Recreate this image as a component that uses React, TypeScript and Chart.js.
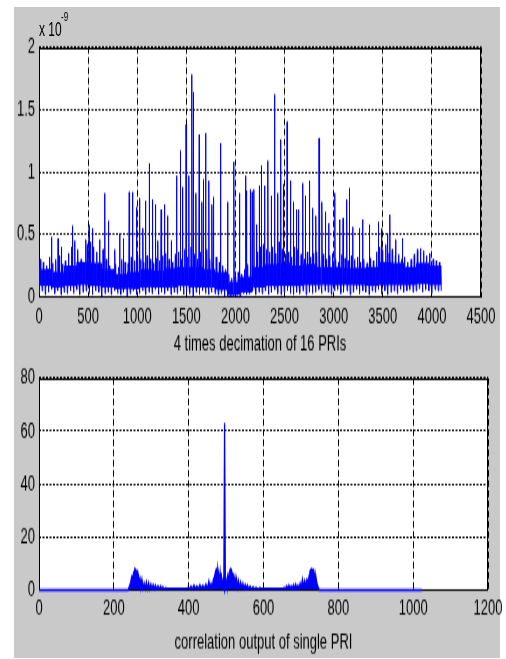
import React, { useEffect, useRef } from "react";
import { Chart, registerables } from "chart.js";

Chart.register(...registerables);

const FONT = "'Liberation Sans', Arial, Helvetica, sans-serif";
const GRAY = "#c9c9c9";
const SY = 1.7;

// ---------- top subplot ----------
const topXTicks = [0, 500, 1000, 1500, 2000, 2500, 3000, 3500, 4000, 4500];
const topYTicks = [0, 0.5, 1, 1.5, 2];
const topXLabel = "4 times decimation of 16 PRIs";
const topExpBase = "x 10";
const topExpPow = "-9";
const noiseBin = 32;
const coreBin = 128;
const noiseLast = 4095;
// upper edge of noise band per 32-sample bin (x 1e-9)
const noiseHi = [
  0.30, 0.28, 0.25, 0.32, 0.27, 0.30, 0.33, 0.26, 0.29, 0.35,
  0.40, 0.45, 0.38, 0.30, 0.28, 0.42, 0.44, 0.40, 0.36, 0.32, 0.38, 0.30,
  0.25, 0.22, 0.26, 0.24, 0.30, 0.28, 0.27, 0.32, 0.29, 0.34,
  0.30, 0.28, 0.33, 0.30, 0.27, 0.31, 0.29, 0.33, 0.35, 0.30, 0.28, 0.34,
  0.36, 0.30, 0.38, 0.32, 0.40, 0.34, 0.30, 0.36, 0.33, 0.38, 0.30, 0.28, 0.32,
  0.28, 0.25, 0.22, 0.18, 0.15, 0.16, 0.20, 0.18, 0.22, 0.26,
  0.30, 0.34, 0.36, 0.40, 0.42, 0.38, 0.36, 0.40, 0.35, 0.44, 0.38, 0.34, 0.36, 0.32, 0.40, 0.38, 0.34, 0.30, 0.36, 0.32, 0.35,
  0.36, 0.32, 0.34, 0.30, 0.33, 0.35, 0.30, 0.28, 0.34, 0.31, 0.29, 0.33, 0.30, 0.32, 0.28, 0.30, 0.27, 0.31, 0.29,
  0.36, 0.40, 0.38, 0.42, 0.35, 0.38, 0.33, 0.34, 0.30, 0.32, 0.28,
  0.30, 0.34, 0.38, 0.36, 0.37, 0.33, 0.35, 0.30, 0.29, 0.28,
];
// lower edge of noise band per 32-sample bin
const noiseLo = [
  0.03, 0.05, 0.02, 0.04, 0.06, 0.03, 0.05, 0.02, 0.04, 0.03,
  0.05, 0.03, 0.06, 0.02, 0.04, 0.05, 0.03, 0.02, 0.05, 0.04, 0.01, 0.03,
  0.04, 0.02, 0.05, 0.03, 0.02, 0.04, 0.01, 0.03, 0.05, 0.02,
  0.03, 0.05, 0.02, 0.04, 0.03, 0.06, 0.02, 0.04, 0.03, 0.05, 0.02, 0.04,
  0.03, 0.05, 0.02, 0.04, 0.03, 0.01, 0.04, 0.02, 0.05, 0.03, 0.02, 0.04, 0.03,
  0.02, 0.03, 0.01, 0.0, 0.01, 0.0, 0.02, 0.01, 0.03, 0.02,
  0.03, 0.05, 0.02, 0.04, 0.03, 0.05, 0.02, 0.04, 0.06, 0.03, 0.02, 0.04, 0.05, 0.03, 0.02, 0.04, 0.03, 0.05, 0.02, 0.04, 0.03,
  0.04, 0.06, 0.03, 0.05, 0.04, 0.02, 0.05, 0.06, 0.03, 0.04, 0.05, 0.02, 0.04, 0.06, 0.03, 0.05, 0.04, 0.02, 0.05,
  0.04, 0.06, 0.03, 0.05, 0.02, 0.04, 0.05, 0.03, 0.06, 0.04, 0.05,
  0.06, 0.04, 0.05, 0.07, 0.04, 0.06, 0.05, 0.03, 0.06, 0.05,
];
// dense core of the noise band per 128-sample bin
const coreHi = [
  0.22, 0.20, 0.25, 0.28, 0.27, 0.22, 0.18, 0.20, 0.22, 0.21, 0.23, 0.24, 0.24, 0.22, 0.20, 0.12,
  0.16, 0.24, 0.26, 0.27, 0.25, 0.26, 0.24, 0.24, 0.23, 0.23, 0.24, 0.28, 0.27, 0.24, 0.27, 0.25,
];
const coreLo = [
  0.09, 0.08, 0.09, 0.10, 0.09, 0.08, 0.07, 0.07, 0.08, 0.08, 0.08, 0.09, 0.08, 0.08, 0.06, 0.02,
  0.04, 0.08, 0.09, 0.09, 0.09, 0.10, 0.10, 0.10, 0.10, 0.10, 0.09, 0.10, 0.10, 0.10, 0.11, 0.10,
];
// isolated peaks
const spikeX = [
  126, 194, 228, 341, 476, 510, 544, 619, 670, 704, 772, 823, 857, 918, 952, 993,
  1022, 1057, 1084, 1120, 1152, 1185, 1209, 1243, 1277, 1310, 1344, 1401, 1437, 1462, 1496, 1526,
  1557, 1570, 1597, 1631, 1658, 1673, 1696, 1728, 1760, 1775, 1847, 1920, 1984,
  2040, 2104, 2111, 2149, 2170, 2188, 2215, 2240, 2262, 2297, 2330, 2364, 2398, 2430, 2460, 2486,
  2525, 2560, 2590, 2620, 2641, 2685, 2710, 2752, 2785, 2818, 2850, 2880, 2915, 2950,
  3012, 3060, 3095, 3132, 3158, 3195, 3262, 3295, 3362, 3452, 3487, 3547, 3572, 3631, 3698, 3883, 3916,
];
const spikeV = [
  0.48, 0.47, 0.40, 0.57, 0.46, 0.57, 0.55, 0.46, 0.83, 0.61, 0.38, 0.51, 0.47, 0.84, 0.84, 0.72,
  0.79, 0.55, 0.77, 1.07, 0.78, 0.74, 0.45, 0.70, 0.74, 0.65, 0.45, 0.97, 1.17, 0.88, 1.38, 0.97,
  1.78, 1.64, 0.83, 1.30, 0.76, 0.94, 1.31, 0.93, 0.74, 0.80, 1.23, 0.76, 1.08,
  0.83, 0.97, 0.85, 0.86, 0.84, 0.86, 0.58, 0.89, 1.05, 0.89, 1.09, 0.81, 1.62, 0.83, 1.26, 0.90,
  1.40, 0.93, 0.76, 0.70, 0.70, 0.91, 0.81, 0.93, 0.71, 0.65, 1.27, 0.76, 0.68, 0.59,
  0.83, 0.62, 0.63, 0.78, 0.87, 0.56, 0.55, 0.62, 0.58, 0.60, 0.55, 0.51, 0.66, 0.46, 0.47, 0.39, 0.36,
];

// ---------- bottom subplot ----------
const botXTicks = [0, 200, 400, 600, 800, 1000, 1200];
const botYTicks = [0, 20, 40, 60, 80];
const botXLabel = "correlation output of single PRI";
const corrX = [
  0, 238,
  242, 245, 248, 250, 252, 254, 256, 258, 260, 262, 264, 266, 268, 270, 272,
  275, 278, 281, 284, 287, 290, 293, 296, 299, 302, 305, 308, 311,
  315, 318, 321, 325, 328, 331, 335, 339, 342,
  395, 398, 402, 406, 410, 414, 418, 422, 426, 430, 434, 438, 442, 446, 450, 454, 457, 460, 463, 466, 469,
  472, 474, 476, 478, 480, 482, 484, 486, 488, 490, 492, 494, 496, 498, 500, 502, 504, 506, 508, 510, 512, 514, 516, 518, 520, 522, 524, 526, 528, 530,
  533, 536, 539, 542, 545, 548, 551, 554, 557, 560,
  564, 568, 572, 576, 580, 585, 590, 594,
  652, 655, 658, 662, 665, 668, 671, 674, 677, 680, 683, 686, 689, 692, 695, 698, 701, 704, 707, 710, 713, 716, 719,
  722, 724, 726, 728, 730, 732, 734, 736, 738, 740, 742, 744, 746, 749,
  1023,
];
const corrV = [
  0, 0,
  1.5, 3, 5, 4, 6, 7, 8, 7.8, 6.5, 7.2, 5, 5.5, 3, 4.2, 1.5,
  4, 0.6, 2.6, 0.5, 3, 0.4, 2.6, 0.3, 2.2, 0.4, 2, 0.3, 1.8,
  0.3, 1.6, 0.3, 1.5, 0.3, 1.2, 0.3, 0.8, 0.5,
  0.5, 0.8, 0.3, 1.5, 0.4, 1.8, 0.5, 1.5, 0.4, 2, 0.5, 1.8, 0.6, 2.2, 0.5, 3.4, 0.8, 2.5, 1, 4, 5,
  7, 8, 7.6, 8, 6, 3, 6.5, 2, 4.5, 1.5, 3.5, 1.5, 63, 1.5, 3.5, 1.5, 5, 3, 6.5, 7.5, 8, 7.8, 6.5, 5, 5.5, 2, 4.5, 1.5, 4, 1,
  3.5, 0.8, 3, 0.6, 2.5, 0.5, 2, 0.4, 1.8, 0.4,
  1.5, 0.3, 1.2, 0.3, 1, 0.3, 0.8, 0.5,
  0.5, 1, 0.4, 1.5, 0.4, 1.8, 0.5, 1.5, 0.5, 2, 0.6, 2.2, 0.6, 1.8, 0.6, 2.5, 0.8, 4, 1.2, 3.5, 1.5, 4, 3,
  5.5, 7, 7.5, 8, 7.8, 7, 7.6, 6, 4.5, 5, 3, 2, 1, 0,
  0,
];

function buildTop() {
  const pts: { x: number; y: number }[] = [];
  const n = Math.min(noiseHi.length, noiseLo.length);
  for (let i = 0; i < n; i++) {
    const x0 = i * noiseBin;
    const k = Math.floor(x0 / coreBin);
    const ch = coreHi[k];
    const cl = coreLo[k];
    const seq = [noiseLo[i], ch, cl, noiseHi[i], cl, ch, cl, ch];
    seq.forEach((y, j) => pts.push({ x: x0 + j * (noiseBin / seq.length), y }));
  }
  pts.push({ x: noiseLast, y: noiseLo[n - 1] });
  spikeX.forEach((x, j) => pts.push({ x: x + 0.5, y: spikeV[j] }));
  pts.sort((a, b) => a.x - b.x);
  return pts;
}

function buildBottom() {
  return corrX.map((x, i) => ({ x, y: corrV[i] }));
}

const boxPlugin = {
  id: "box",
  beforeDraw(chart: any) {
    const { ctx, chartArea: a } = chart;
    ctx.save();
    ctx.fillStyle = "#ffffff";
    ctx.fillRect(a.left, a.top, a.right - a.left, a.bottom - a.top);
    ctx.restore();
  },
  beforeDatasetsDraw(chart: any) {
    const { ctx, chartArea: a } = chart;
    ctx.save();
    ctx.strokeStyle = "#000";
    ctx.lineWidth = 1;
    ctx.setLineDash([]);
    const l = Math.round(a.left) + 0.5;
    const t = Math.round(a.top) + 0.5;
    const r = Math.round(a.right) - 0.5;
    const b = Math.round(a.bottom) - 0.5;
    ctx.strokeRect(l, t, r - l, b - t);
    ctx.restore();
  },
};

function makeConfig(o: any): any {
  const tickFont = { family: FONT, size: 13 };
  return {
    type: "line",
    data: {
      datasets: [
        {
          data: o.data,
          borderColor: "#0000ff",
          backgroundColor: "#0000ff",
          borderWidth: o.lineWidth,
          pointRadius: 0,
          tension: 0,
          fill: o.fill ? "origin" : false,
          clip: false,
        },
      ],
    },
    options: {
      responsive: false,
      animation: false,
      parsing: false,
      events: [],
      layout: { padding: o.padding },
      plugins: { legend: { display: false }, tooltip: { enabled: false } },
      scales: {
        x: {
          type: "linear",
          min: o.xTicks[0],
          max: o.xTicks[o.xTicks.length - 1],
          afterBuildTicks: (s: any) => {
            s.ticks = o.xTicks.map((v: number) => ({ value: v }));
          },
          afterFit: (s: any) => {
            s.height = o.xHeight;
          },
          grid: { color: "#000", lineWidth: 1, drawTicks: false },
          border: { display: false, dash: [4, 2] },
          ticks: {
            color: "#000",
            font: tickFont,
            padding: o.xTickPad,
            autoSkip: false,
            maxRotation: 0,
            callback: (v: any) => String(v),
          },
          title: {
            display: true,
            text: o.xLabel,
            color: "#000",
            font: { family: FONT, size: 13 },
            padding: 0,
          },
        },
        y: {
          type: "linear",
          min: o.yTicks[0],
          max: o.yTicks[o.yTicks.length - 1],
          afterBuildTicks: (s: any) => {
            s.ticks = o.yTicks.map((v: number) => ({ value: v }));
          },
          afterFit: (s: any) => {
            s.width = o.yWidth;
          },
          grid: { color: "#000", lineWidth: 1, drawTicks: false },
          border: { display: false, dash: [2, 1.5] },
          ticks: {
            color: "#000",
            font: tickFont,
            padding: 4,
            autoSkip: false,
            callback: (v: any) => String(v),
          },
        },
      },
    },
    plugins: [boxPlugin],
  };
}

export default function App() {
  const topRef = useRef<HTMLCanvasElement>(null);
  const botRef = useRef<HTMLCanvasElement>(null);

  useEffect(() => {
    const c1 = new Chart(
      topRef.current as HTMLCanvasElement,
      makeConfig({
        data: buildTop(),
        xTicks: topXTicks,
        yTicks: topYTicks,
        xLabel: topXLabel,
        padding: { left: 0, top: 23.5, right: 17, bottom: 0 },
        yWidth: 25,
        xHeight: 35.4,
        xTickPad: 4.5,
        lineWidth: 1,
        fill: false,
      })
    );
    const c2 = new Chart(
      botRef.current as HTMLCanvasElement,
      makeConfig({
        data: buildBottom(),
        xTicks: botXTicks,
        yTicks: botYTicks,
        xLabel: botXLabel,
        padding: { left: 0, top: 8.8, right: 18, bottom: 0 },
        yWidth: 25,
        xHeight: 38.5,
        xTickPad: 3.5,
        lineWidth: 1.3,
        fill: true,
      })
    );
    return () => {
      c1.destroy();
      c2.destroy();
    };
  }, []);

  return (
    <div
      style={{
        position: "fixed",
        left: 0,
        top: 0,
        width: 506,
        height: 659,
        background: "#ffffff",
        overflow: "hidden",
      }}
    >
      <div
        style={{
          position: "absolute",
          left: 14,
          top: 7,
          width: 486,
          height: 651,
          background: GRAY,
        }}
      />
      <div
        style={{
          position: "absolute",
          left: 14,
          top: 7,
          width: 486,
          height: 206,
          transform: `scaleY(${SY})`,
          transformOrigin: "0 0",
        }}
      >
        <canvas
          ref={topRef}
          width={486}
          height={206}
          style={{ display: "block", width: 486, height: 206 }}
        />
        <span
          style={{
            position: "absolute",
            left: 25,
            top: 6.5,
            fontFamily: FONT,
            fontSize: 12,
            lineHeight: "12px",
            color: "#000",
            whiteSpace: "nowrap",
          }}
        >
          {topExpBase}
        </span>
        <span
          style={{
            position: "absolute",
            left: 47,
            top: 2,
            fontFamily: FONT,
            fontSize: 8,
            lineHeight: "8px",
            color: "#000",
            whiteSpace: "nowrap",
          }}
        >
          {topExpPow}
        </span>
      </div>
      <div
        style={{
          position: "absolute",
          left: 14,
          top: 358,
          width: 492,
          height: 175,
          transform: `scaleY(${SY})`,
          transformOrigin: "0 0",
        }}
      >
        <canvas
          ref={botRef}
          width={492}
          height={175}
          style={{ display: "block", width: 492, height: 175 }}
        />
      </div>
    </div>
  );
}
